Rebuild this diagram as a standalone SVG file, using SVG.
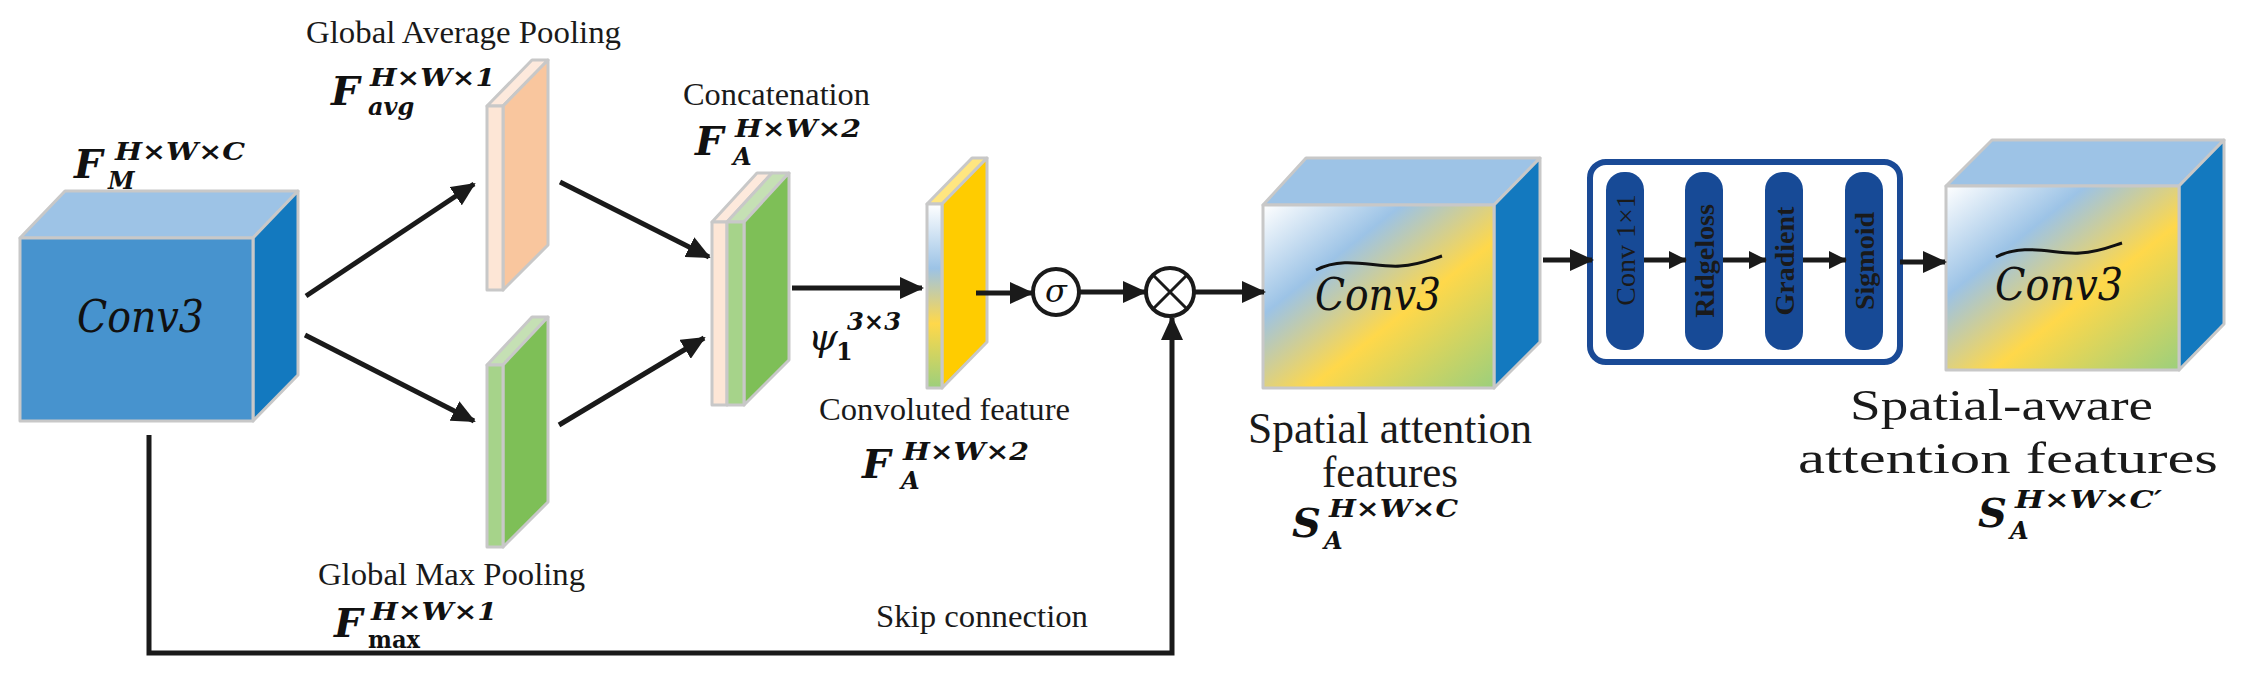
<svg xmlns="http://www.w3.org/2000/svg" width="2248" height="679" viewBox="0 0 2248 679">
<style>
.lbl{font-family:"Liberation Serif",serif;font-size:31px;fill:#1a1a1a}
.big{font-family:"Liberation Serif",serif;font-size:44px;fill:#1a1a1a}
.m{font-family:"DejaVu Serif",serif;font-weight:bold;font-style:italic;fill:#111}
.mF{font-size:40px}
.ms{font-size:24px}
.conv{font-family:"DejaVu Serif",serif;font-style:italic;font-size:44px;fill:#111}
.edge{stroke:#c8c8c8;stroke-width:3;stroke-linejoin:round}
.ln{stroke:#1a1a1a;stroke-width:5;fill:none}
.pill{fill:#174a96}
.pt{font-family:"Liberation Serif",serif;font-size:28px;font-weight:bold;fill:#1a1a1a;text-anchor:middle;dominant-baseline:central}
</style>
<defs>
<marker id="ah" markerUnits="userSpaceOnUse" markerWidth="24" markerHeight="22" refX="22" refY="11" orient="auto"><path d="M0,0 L24,11 L0,22 z" fill="#1a1a1a"/></marker>
<marker id="ahs" markerUnits="userSpaceOnUse" markerWidth="18" markerHeight="18" refX="17" refY="9" orient="auto"><path d="M0,0 L18,9 L0,18 z" fill="#1a1a1a"/></marker>
<linearGradient id="feat" x1="0" y1="0" x2="1" y2="1">
<stop offset="0" stop-color="#ffffff"/><stop offset="0.3" stop-color="#9cc3e6"/><stop offset="0.6" stop-color="#ffd84a"/><stop offset="1" stop-color="#9ccf7c"/>
</linearGradient>
<linearGradient id="featv" x1="0" y1="0" x2="0" y2="1">
<stop offset="0" stop-color="#ffffff"/><stop offset="0.35" stop-color="#9cc3e6"/><stop offset="0.65" stop-color="#ffd84a"/><stop offset="1" stop-color="#9ccf7c"/>
</linearGradient>
</defs>

<g id="cube1">
<polygon class="edge" points="20,238 65,191 298,191 253,238" fill="#9dc3e6"/>
<polygon class="edge" points="253,238 298,191 298,375 253,421" fill="#1379bf"/>
<rect class="edge" x="20" y="238" width="233" height="183" fill="#4793ce"/>
<text class="conv" x="77" y="332" textLength="127" lengthAdjust="spacingAndGlyphs">Conv3</text>
<text class="m mF" x="74" y="178">F</text><text class="m ms" x="115" y="160" textLength="130" lengthAdjust="spacingAndGlyphs">H×W×C</text><text class="m ms" x="108" y="189">M</text>
</g>

<g id="avgpool">
<polygon class="edge" points="487,106 532,60 548,60 503,106" fill="#fde9dc"/>
<polygon class="edge" points="503,106 548,60 548,245 503,290" fill="#f9c69e"/>
<rect class="edge" x="487" y="106" width="16" height="184" fill="#fde6d6"/>
<text class="lbl" x="306" y="43" textLength="315" lengthAdjust="spacingAndGlyphs">Global Average Pooling</text>
<text class="m mF" x="331" y="105">F</text><text class="m ms" x="370" y="86" textLength="125" lengthAdjust="spacingAndGlyphs">H×W×1</text><text class="m ms" x="368" y="115">avg</text>
</g>

<g id="maxpool">
<polygon class="edge" points="487,365 532,317 548,317 503,365" fill="#c5e0b4"/>
<polygon class="edge" points="503,365 548,317 548,502 503,547" fill="#7ebf57"/>
<rect class="edge" x="487" y="365" width="16" height="182" fill="#a6d38a"/>
<text class="lbl" x="318" y="585" textLength="267" lengthAdjust="spacingAndGlyphs">Global Max Pooling</text>
<text class="m mF" x="334" y="637">F</text><text class="m ms" x="371" y="620" textLength="126" lengthAdjust="spacingAndGlyphs">H×W×1</text><text class="m ms" x="368" y="648" style="font-style:normal" textLength="52" lengthAdjust="spacingAndGlyphs">max</text>
</g>

<g id="concat">
<polygon class="edge" points="712,222 757,173 772,173 727,222" fill="#fde9dc"/>
<polygon class="edge" points="727,222 772,173 789,173 744,222" fill="#c5e0b4"/>
<polygon class="edge" points="744,222 789,173 789,360 744,405" fill="#7ebf57"/>
<rect class="edge" x="712" y="222" width="15" height="183" fill="#fde6d6"/>
<rect class="edge" x="727" y="222" width="17" height="183" fill="#a6d38a"/>
<text class="lbl" x="683" y="105" textLength="187" lengthAdjust="spacingAndGlyphs">Concatenation</text>
<text class="m mF" x="695" y="155">F</text><text class="m ms" x="735" y="137" textLength="126" lengthAdjust="spacingAndGlyphs">H×W×2</text><text class="m ms" x="733" y="165">A</text>
</g>

<g id="convfeat">
<polygon class="edge" points="927,204 972,158 987,158 942,204" fill="#ffe680"/>
<polygon class="edge" points="942,204 987,158 987,342 942,388" fill="#ffcc00"/>
<rect class="edge" x="927" y="204" width="15" height="184" fill="url(#featv)"/>
<text class="lbl" x="819" y="420" textLength="251" lengthAdjust="spacingAndGlyphs">Convoluted feature</text>
<text class="m mF" x="862" y="478">F</text><text class="m ms" x="903" y="460" textLength="126" lengthAdjust="spacingAndGlyphs">H×W×2</text><text class="m ms" x="901" y="489">A</text>
<text class="m" x="808" y="350" font-size="38" style="font-weight:normal">ψ</text><text class="m ms" x="847" y="330" textLength="54" lengthAdjust="spacingAndGlyphs">3×3</text><text class="m ms" x="836" y="360" style="font-style:normal">1</text>
</g>

<g id="sigma">
<circle cx="1056" cy="292" r="23" fill="#fff" stroke="#1a1a1a" stroke-width="4"/>
<text x="1056" y="302" text-anchor="middle" font-family="DejaVu Serif,serif" font-style="italic" font-size="32" fill="#111">σ</text>
</g>

<g id="mult">
<circle cx="1170" cy="292" r="24" fill="#fff" stroke="#1a1a1a" stroke-width="4"/>
<path d="M1153,275 L1187,309 M1187,275 L1153,309" stroke="#1a1a1a" stroke-width="3"/>
</g>

<g id="cube2">
<polygon class="edge" points="1263,205 1306,158 1540,158 1494,205" fill="#9dc3e6"/>
<polygon class="edge" points="1494,205 1540,158 1540,342 1494,388" fill="#1379bf"/>
<rect class="edge" x="1263" y="205" width="231" height="183" fill="url(#feat)"/>
<path d="M1316,270 C1345,255 1375,268 1400,266 C1420,265 1432,259 1442,256" stroke="#111" stroke-width="3" fill="none"/>
<text class="conv" x="1315" y="310" textLength="126" lengthAdjust="spacingAndGlyphs">Conv3</text>
<text class="big" x="1248" y="443" textLength="284" lengthAdjust="spacingAndGlyphs">Spatial attention</text>
<text class="big" x="1322" y="487" textLength="136" lengthAdjust="spacingAndGlyphs">features</text>
<text class="m mF" x="1292" y="537">S</text><text class="m ms" x="1329" y="517" textLength="129" lengthAdjust="spacingAndGlyphs">H×W×C</text><text class="m ms" x="1324" y="549">A</text>
</g>

<g id="module">
<rect x="1590" y="162" width="310" height="200" rx="16" fill="#fff" stroke="#1a4a96" stroke-width="6"/>
<rect class="pill" x="1606" y="172" width="38" height="178" rx="18"/>
<rect class="pill" x="1685" y="172" width="38" height="178" rx="18"/>
<rect class="pill" x="1765" y="172" width="38" height="178" rx="18"/>
<rect class="pill" x="1845" y="172" width="38" height="178" rx="18"/>
<text class="pt" transform="translate(1625,250) rotate(-90)" style="font-weight:normal">Conv 1×1</text>
<text class="pt" transform="translate(1704,261) rotate(-90)">Ridgeloss</text>
<text class="pt" transform="translate(1784,261) rotate(-90)">Gradient</text>
<text class="pt" transform="translate(1864,261) rotate(-90)">Sigmoid</text>
</g>

<g id="cube3">
<polygon class="edge" points="1946,186 1992,140 2224,140 2179,186" fill="#9dc3e6"/>
<polygon class="edge" points="2179,186 2224,140 2224,324 2179,370" fill="#1379bf"/>
<rect class="edge" x="1946" y="186" width="233" height="184" fill="url(#feat)"/>
<path d="M1996,257 C2025,242 2055,255 2080,253 C2100,252 2112,246 2122,243" stroke="#111" stroke-width="3" fill="none"/>
<text class="conv" x="1995" y="300" textLength="128" lengthAdjust="spacingAndGlyphs">Conv3</text>
<text class="big" x="1850" y="420" textLength="303" lengthAdjust="spacingAndGlyphs">Spatial-aware</text>
<text class="big" x="1798" y="473" textLength="420" lengthAdjust="spacingAndGlyphs">attention features</text>
<text class="m mF" x="1978" y="527">S</text><text class="m ms" x="2015" y="508" textLength="147" lengthAdjust="spacingAndGlyphs">H×W×C′</text><text class="m ms" x="2010" y="539">A</text>
</g>

<g id="connectors">
<line class="ln" x1="306" y1="296" x2="474" y2="184" marker-end="url(#ah)"/>
<line class="ln" x1="305" y1="335" x2="474" y2="421" marker-end="url(#ah)"/>
<line class="ln" x1="560" y1="182" x2="709" y2="257" marker-end="url(#ah)"/>
<line class="ln" x1="559" y1="425" x2="704" y2="338" marker-end="url(#ah)"/>
<line class="ln" x1="792" y1="288" x2="922" y2="288" marker-end="url(#ah)"/>
<line class="ln" x1="976" y1="293" x2="1032" y2="293" marker-end="url(#ah)"/>
<line class="ln" x1="1080" y1="292" x2="1145" y2="292" marker-end="url(#ah)"/>
<line class="ln" x1="1194" y1="292" x2="1264" y2="292" marker-end="url(#ah)"/>
<polyline class="ln" points="149,435 149,653 1172,653 1172,318" marker-end="url(#ah)"/>
<text class="lbl" x="876" y="627" textLength="212" lengthAdjust="spacingAndGlyphs">Skip connection</text>
<line class="ln" x1="1543" y1="260" x2="1592" y2="260" marker-end="url(#ah)"/>
<line class="ln" x1="1644" y1="260" x2="1686" y2="260" stroke-width="3" marker-end="url(#ahs)"/>
<line class="ln" x1="1723" y1="260" x2="1766" y2="260" stroke-width="3" marker-end="url(#ahs)"/>
<line class="ln" x1="1803" y1="260" x2="1846" y2="260" stroke-width="3" marker-end="url(#ahs)"/>
<line class="ln" x1="1900" y1="262" x2="1945" y2="262" marker-end="url(#ah)"/>
</g>
</svg>
